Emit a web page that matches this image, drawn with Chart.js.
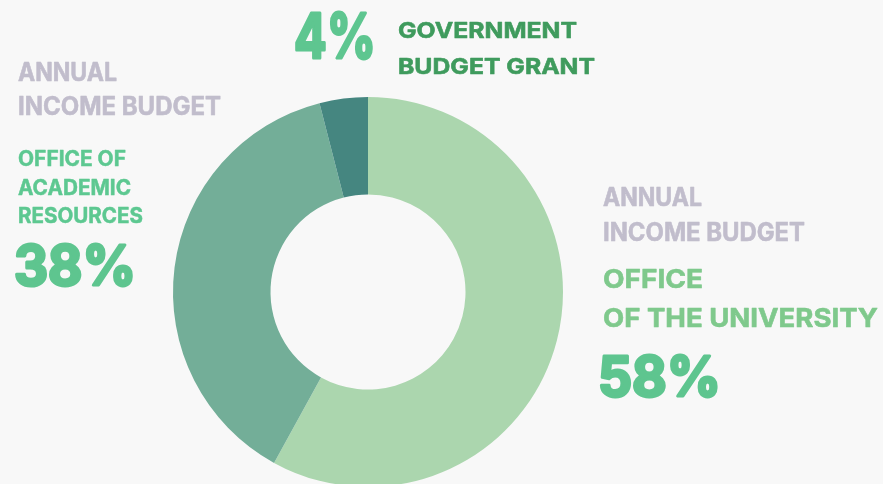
<!DOCTYPE html>
<html>
<head>
<meta charset="utf-8">
<script src="https://cdn.jsdelivr.net/npm/chart.js@4.4.1/dist/chart.umd.min.js"></script>
<style>
  html, body { margin: 0; padding: 0; background: #f8f8f8; overflow: hidden; }
  #wrap { position: relative; width: 883px; height: 500px; }
</style>
</head>
<body>
<div id="wrap"><canvas id="budget"></canvas></div>
<script>
// income budget split, clockwise from the top
const sources = ["Office of the University", "Office of Academic Resources", "Government Budget Grant"];
const shares = [58, 38, 4];
const sliceColors = ["#abd6ae", "#73ae98", "#458680"];

// annotation text
const headerLines = ["ANNUAL", "INCOME BUDGET"];
const universityLines = ["OFFICE", "OF THE UNIVERSITY"];
const academicLines = ["OFFICE OF", "ACADEMIC", "RESOURCES"];
const grantLines = ["GOVERNMENT", "BUDGET GRANT"];

const GREY = "#c1bdcc";
const FONT = "Inter, 'Noto Sans', sans-serif";

// draw lines, stretching each one to the wanted width; heavy adds a stroke to thicken the glyphs
function drawLines(ctx, lines, x, firstBaseline, step, font, color, widths, heavy) {
  ctx.font = font;
  ctx.fillStyle = color;
  ctx.strokeStyle = color;
  ctx.lineJoin = "round";
  lines.forEach((line, i) => {
    const y = firstBaseline + i * step;
    const natural = ctx.measureText(line).width;
    const w = (widths && widths[i]) || natural;
    ctx.save();
    ctx.translate(x, y);
    ctx.scale(w / natural, 1);
    ctx.fillText(line, 0, 0);
    if (heavy) {
      ctx.lineWidth = heavy;
      ctx.strokeText(line, 0, 0);
    }
    ctx.restore();
  });
}

const labelPlugin = {
  id: "labels",
  afterDraw(chart) {
    const ctx = chart.ctx;
    ctx.save();
    ctx.textAlign = "left";
    ctx.textBaseline = "alphabetic";

    // top: government grant
    drawLines(ctx, [shares[2] + "%"], 294, 58, 0, "700 62px " + FONT, "#5ec690", [82], 3);
    drawLines(ctx, grantLines, 398, 38, 36, "700 22px " + FONT, "#3f9b5d", [179, 197], 0.6);

    // left: academic resources
    drawLines(ctx, headerLines, 18, 81, 34, "700 25px " + FONT, GREY, [99, 203], 0.6);
    drawLines(ctx, academicLines, 18, 166, 28.5, "700 21px " + FONT, "#5dc891", [108, 113, 125], 0.5);
    drawLines(ctx, [shares[1] + "%"], 14, 285, 0, "700 55px " + FONT, "#5ec58f", [122], 3);

    // right: university
    drawLines(ctx, headerLines, 603, 206, 35, "700 25px " + FONT, GREY, [99, 202], 0.6);
    drawLines(ctx, universityLines, 603, 288, 39, "700 26px " + FONT, "#7fc98c", [100, 275], 0.6);
    drawLines(ctx, [shares[0] + "%"], 598, 396, 0, "700 55px " + FONT, "#5ec58f", [123], 3);

    ctx.restore();
  }
};

new Chart(document.getElementById("budget"), {
  type: "doughnut",
  data: {
    labels: sources,
    datasets: [{
      data: shares,
      backgroundColor: sliceColors,
      borderWidth: 0,
      hoverOffset: 0
    }]
  },
  options: {
    responsive: true,
    maintainAspectRatio: false,
    animation: false,
    cutout: "50%",
    layout: { padding: { left: 173, right: 320, top: 97, bottom: 13 } },
    plugins: {
      legend: { display: false },
      tooltip: { enabled: false }
    }
  },
  plugins: [labelPlugin]
});
</script>
</body>
</html>
